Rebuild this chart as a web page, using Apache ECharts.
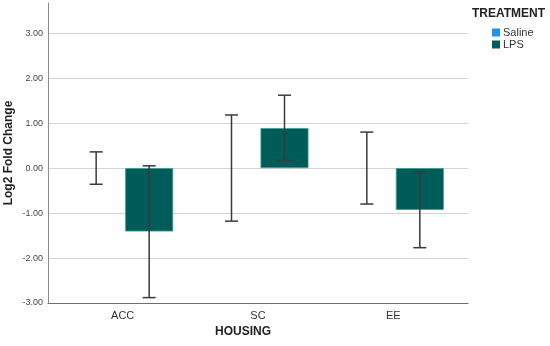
<!DOCTYPE html>
<html><head><meta charset="utf-8">
<script src="https://cdn.jsdelivr.net/npm/echarts@6/dist/echarts.min.js"></script>
<style>html,body{margin:0;padding:0;background:#fff}#c{width:550px;height:346px}</style>
</head><body><div id="c"></div>
<script>
var categories = ['ACC', 'SC', 'EE'];
var salineMean = [0, 0, 0];
var salineLow = [-0.36, -1.18, -0.80];
var salineHigh = [0.36, 1.18, 0.80];
var lpsMean = [-1.41, 0.89, -0.93];
var lpsLow = [-2.88, 0.17, -1.77];
var lpsHigh = [0.05, 1.62, -0.09];
var yTicks = [-3, -2, -1, 0, 1, 2, 3];

var FONT = '"Liberation Sans", Arial, sans-serif';
var BAR_W = 48, BAR_GAP = 5;
var OFF = (BAR_W + BAR_GAP) / 2;

function errData(low, high, side) {
  return categories.map(function (c, i) { return [i, low[i], high[i], side]; });
}
function renderErr(params, api) {
  var i = api.value(0), side = api.value(3);
  var pLo = api.coord([i, api.value(1)]);
  var pHi = api.coord([i, api.value(2)]);
  var x = pLo[0] + side * OFF;
  var cap = 6.5;
  var st = { stroke: '#3a3a3a', lineWidth: 1.5 };
  return { type: 'group', children: [
    { type: 'line', shape: { x1: x, y1: pLo[1], x2: x, y2: pHi[1] }, style: st },
    { type: 'line', shape: { x1: x - cap, y1: pLo[1], x2: x + cap, y2: pLo[1] }, style: st },
    { type: 'line', shape: { x1: x - cap, y1: pHi[1], x2: x + cap, y2: pHi[1] }, style: st }
  ]};
}

var chart = echarts.init(document.getElementById('c'), null, { renderer: 'canvas' });
chart.setOption({
  animation: false,
  textStyle: { fontFamily: FONT },
  title: [
    { text: 'TREATMENT', left: 472, top: 8, padding: 0, textStyle: { fontFamily: FONT, fontSize: 12, fontWeight: 'bold', color: '#222' } },
    { text: 'HOUSING', left: 243, top: 326, padding: 0, textAlign: 'center', textStyle: { fontFamily: FONT, fontSize: 12, fontWeight: 'bold', color: '#222' } }
  ],
  legend: {
    data: ['Saline', 'LPS'], orient: 'vertical', left: 492, top: 27, padding: 0,
    itemWidth: 8, itemHeight: 8, itemGap: 1, icon: 'rect',
    itemStyle: { borderWidth: 0 },
    textStyle: { fontFamily: FONT, fontSize: 11, color: '#333', padding: [0, 0, 0, -2] }
  },
  grid: [
    { left: 48, right: 82, top: 3, bottom: 43, outerBoundsMode: 'none', containLabel: false },
    { left: 55, right: 89, top: 3, bottom: 43, outerBoundsMode: 'none', containLabel: false }
  ],
  xAxis: [
    { type: 'category', gridIndex: 0, data: [''], axisLine: { onZero: false, lineStyle: { color: '#6e6e6e', width: 1.2 } },
      axisTick: { show: false }, axisLabel: { show: false }, splitLine: { show: false } },
    { type: 'category', gridIndex: 1, data: categories, axisLine: { show: false, onZero: false }, axisTick: { show: false },
      axisLabel: { fontFamily: FONT, fontSize: 11, color: '#333', margin: 7 } }
  ],
  yAxis: [
    { type: 'value', gridIndex: 0, min: -3, max: 3.67, interval: 1,
      name: 'Log2 Fold Change', nameLocation: 'middle', nameGap: 33, nameRotate: 90, nameMoveOverlap: false,
      nameTextStyle: { fontFamily: FONT, fontSize: 12, fontWeight: 'bold', color: '#222' },
      axisLine: { show: true, onZero: false, lineStyle: { color: '#8a8a8a', width: 1 } }, axisTick: { show: false },
      axisLabel: { fontFamily: FONT, fontSize: 9, color: '#444', margin: 5, showMaxLabel: false,
        formatter: function (v) { return v.toFixed(2); } },
      splitLine: { show: true, showMaxLine: false, showMinLine: false, lineStyle: { color: '#d4d4d4', width: 1.2 } } },
    { type: 'value', gridIndex: 1, min: -3, max: 3.67, interval: 1, show: false, splitLine: { show: false } }
  ],
  series: [
    { name: 'Saline', type: 'bar', xAxisIndex: 1, yAxisIndex: 1, data: salineMean, barWidth: BAR_W,
      barGap: (BAR_GAP / BAR_W * 100) + '%', itemStyle: { color: '#1e94e8' } },
    { name: 'LPS', type: 'bar', xAxisIndex: 1, yAxisIndex: 1, data: lpsMean, barWidth: BAR_W,
      itemStyle: { color: '#005c58', borderColor: '#3f9e96', borderWidth: 0.8 } },
    { name: 'errS', type: 'custom', xAxisIndex: 1, yAxisIndex: 1, renderItem: renderErr, data: errData(salineLow, salineHigh, -1), z: 5 },
    { name: 'errL', type: 'custom', xAxisIndex: 1, yAxisIndex: 1, renderItem: renderErr, data: errData(lpsLow, lpsHigh, 1), z: 5 }
  ]
});
</script></body></html>
